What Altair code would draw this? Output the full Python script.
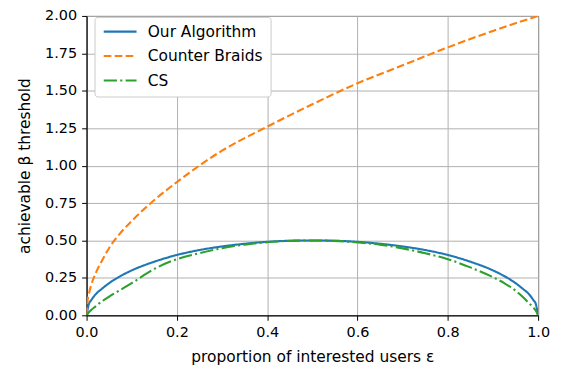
import altair as alt
import pandas as pd

# Series
x_ours = [0, 0.005, 0.01, 0.02, 0.035, 0.05, 0.075, 0.1, 0.15, 0.2, 0.25, 0.3, 0.35, 0.4, 0.45, 0.5,
          0.55, 0.6, 0.65, 0.7, 0.75, 0.8, 0.85, 0.9, 0.925, 0.95, 0.965, 0.98, 0.99, 0.995, 1.0]
y_ours = [0, 0.075, 0.10, 0.14, 0.18, 0.215, 0.262, 0.30, 0.358, 0.403, 0.436, 0.46, 0.478, 0.491, 0.498, 0.5,
          0.498, 0.491, 0.478, 0.46, 0.436, 0.403, 0.358, 0.30, 0.262, 0.215, 0.18, 0.14, 0.10, 0.075, 0]

x_cs = x_ours
y_cs = [0, 0.02, 0.035, 0.06, 0.095, 0.125, 0.17, 0.215, 0.31, 0.375, 0.415, 0.448, 0.472, 0.488, 0.497, 0.5,
        0.497, 0.487, 0.472, 0.447, 0.415, 0.375, 0.32, 0.255, 0.215, 0.165, 0.125, 0.08, 0.05, 0.03, 0]

x_cb = [0, 0.002, 0.005, 0.01, 0.02, 0.035, 0.05, 0.075, 0.1, 0.15, 0.2, 0.3, 0.4, 0.5, 0.6, 0.7, 0.8, 0.9, 1.0]
y_cb = [0, 0.09, 0.14, 0.2, 0.28, 0.37, 0.45, 0.55, 0.63, 0.77, 0.89, 1.1, 1.26, 1.41, 1.55, 1.67, 1.79, 1.9, 2.0]

series = ["Our Algorithm", "Counter Braids", "CS"]
colors = ["#1f77b4", "#ff7f0e", "#2ca02c"]
dashes = [[1, 0], [7.7, 3.3], [13.3, 3.3, 2.1, 3.3]]

x_ticks = [0, 0.2, 0.4, 0.6, 0.8, 1.0]
y_ticks = [0, 0.25, 0.5, 0.75, 1.0, 1.25, 1.5, 1.75, 2.0]

rows = []
for name, xs, ys in [("Our Algorithm", x_ours, y_ours), ("Counter Braids", x_cb, y_cb), ("CS", x_cs, y_cs)]:
    for i, (a, b) in enumerate(zip(xs, ys)):
        rows.append({"x": a, "y": b, "series": name, "order": i})
df = pd.DataFrame(rows)

font = "DejaVu Sans"
fs = 14.5
fs_text = 15.5

chart = alt.Chart(df).mark_line(strokeWidth=2.1, interpolate="monotone", clip=True).encode(
    x=alt.X("x:Q", scale=alt.Scale(domain=[0, 1], nice=False),
            axis=alt.Axis(values=x_ticks, format=".1f", title="proportion of interested users ε",
                          titlePadding=11, labelFlush=False)),
    y=alt.Y("y:Q", scale=alt.Scale(domain=[0, 2], nice=False),
            axis=alt.Axis(values=y_ticks, format=".2f", title="achievable β threshold",
                          titlePadding=12, labelFlush=False)),
    color=alt.Color("series:N", scale=alt.Scale(domain=series, range=colors),
                    legend=alt.Legend(title=None, orient="none", legendX=8, legendY=1,
                                      symbolType="M-3,0H3", symbolSize=121, symbolStrokeWidth=2.1,
                                      symbolOffset=11,
                                      labelFont=font, labelFontSize=fs_text, labelColor="#000000",
                                      labelOffset=20, rowPadding=7.6, padding=7,
                                      fillColor="white", strokeColor="#cccccc", cornerRadius=3)),
    strokeDash=alt.StrokeDash("series:N", scale=alt.Scale(domain=series, range=dashes), legend=None),
    order="order:Q",
).properties(
    width=454, height=301,
    autosize=alt.AutoSizeParams(type="none"),
    padding={"left": 79, "top": 7, "right": 20, "bottom": 50},
).configure_axis(
    labelFont=font, labelFontSize=fs, labelColor="#000000",
    titleFont=font, titleFontSize=fs_text, titleFontWeight="normal", titleColor="#000000",
    domainColor="#000000", tickColor="#000000", tickSize=5, labelPadding=5,
    gridColor="#b0b0b0", gridWidth=1,
).configure_view(stroke="#000000", strokeWidth=1)

chart.save("out.html", embed_options={"renderer": "svg", "actions": False})
